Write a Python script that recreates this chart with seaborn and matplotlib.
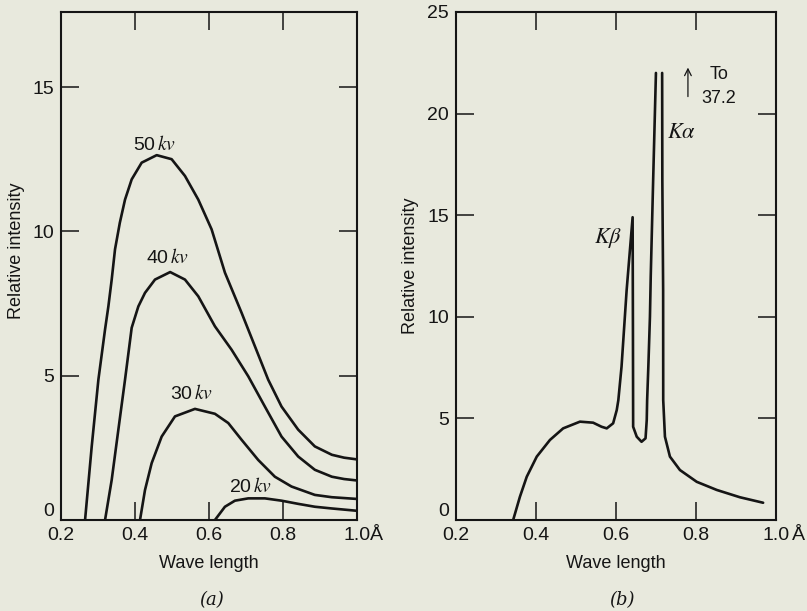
import numpy as np
import pandas as pd
import matplotlib
matplotlib.use("Agg")
import matplotlib.pyplot as plt
import seaborn as sns

# continuous spectra, panel (a): wavelength (A) and relative intensity
wl_50 = [0.265, 0.283, 0.301, 0.319, 0.328, 0.337, 0.346, 0.359, 0.373, 0.391, 0.418,
         0.4586, 0.499, 0.535, 0.571, 0.607, 0.643, 0.688, 0.724, 0.76, 0.796,
         0.841, 0.886, 0.932, 0.965, 1.0]
in_50 = [0.0, 2.55, 4.86, 6.6, 7.4, 8.33, 9.38, 10.3, 11.1, 11.8, 12.38,
         12.64, 12.5, 11.92, 11.1, 10.07, 8.57, 7.18, 6.02, 4.86, 3.93,
         3.13, 2.55, 2.26, 2.16, 2.1]

wl_40 = [0.319, 0.337, 0.355, 0.373, 0.391, 0.409, 0.427, 0.454, 0.495, 0.535,
         0.571, 0.616, 0.661, 0.706, 0.751, 0.796, 0.841, 0.886, 0.932, 0.965, 1.0]
in_40 = [0.0, 1.39, 3.13, 4.86, 6.66, 7.4, 7.87, 8.33, 8.59, 8.33,
         7.75, 6.71, 5.9, 4.98, 3.93, 2.89, 2.2, 1.74, 1.5, 1.42, 1.37]

wl_30 = [0.4135, 0.427, 0.445, 0.472, 0.508, 0.562, 0.616, 0.652, 0.688, 0.733,
         0.778, 0.823, 0.886, 0.932, 1.0]
in_30 = [0.0, 1.04, 1.97, 2.89, 3.59, 3.85, 3.68, 3.36, 2.78, 2.08,
         1.5, 1.16, 0.87, 0.79, 0.73]

wl_20 = [0.616, 0.643, 0.67, 0.706, 0.751, 0.796, 0.841, 0.886, 0.932, 1.0]
in_20 = [0.0, 0.46, 0.67, 0.75, 0.75, 0.67, 0.56, 0.46, 0.4, 0.32]

kv_labels = ["50", "40", "30", "20"]
kv_label_x = [0.454, 0.487, 0.554, 0.713]
kv_label_y = [13.0, 9.1, 4.4, 1.15]

# panel (b): spectrum with characteristic lines, K-alpha cut off at 22
wl_b1 = [0.343, 0.36, 0.377, 0.402, 0.435, 0.468, 0.51, 0.543, 0.564, 0.577, 0.593,
         0.602, 0.606, 0.614, 0.6267, 0.6417, 0.6425, 0.643, 0.652, 0.664, 0.674,
         0.677, 0.678, 0.681, 0.685, 0.687, 0.693, 0.70]
in_b1 = [0.0, 1.15, 2.13, 3.12, 3.94, 4.51, 4.84, 4.79, 4.59, 4.51, 4.76,
         5.41, 5.9, 7.55, 11.3, 14.9, 9.2, 4.59, 4.1, 3.85, 4.02,
         4.92, 5.9, 7.55, 10.0, 12.0, 16.7, 22.0]
wl_b2 = [0.7155, 0.716, 0.718, 0.7182, 0.7225, 0.735, 0.76, 0.802, 0.852, 0.91, 0.968]
in_b2 = [22.0, 16.7, 11.3, 5.9, 4.1, 3.12, 2.46, 1.88, 1.48, 1.12, 0.85]

x_ticks = [0.2, 0.4, 0.6, 0.8, 1.0]
x_ticklabels = ["0.2", "0.4", "0.6", "0.8", "1.0"]

bg = "#e8e9dd"
ink = "#151515"

sns.set_theme(style="ticks")
plt.rcParams["font.family"] = ["Liberation Sans", "DejaVu Sans"]
plt.rcParams["mathtext.fontset"] = "stix"

fig = plt.figure(figsize=(8.07, 6.11), dpi=100, facecolor=bg)
ax1 = fig.add_axes([0.0756, 0.1489, 0.3668, 0.8315])
ax2 = fig.add_axes([0.565, 0.1489, 0.3965, 0.8315])

lw = 1.9
for wl, inten in [(wl_50, in_50), (wl_40, in_40), (wl_30, in_30), (wl_20, in_20)]:
    sns.lineplot(x=wl, y=inten, ax=ax1, color=ink, lw=lw, sort=False)

for lab, lx, ly in zip(kv_labels, kv_label_x, kv_label_y):
    ax1.text(lx, ly, lab + r"$\,kv$", ha="center", va="center", fontsize=14, color=ink)

sns.lineplot(x=wl_b1, y=in_b1, ax=ax2, color=ink, lw=lw, sort=False)
sns.lineplot(x=wl_b2, y=in_b2, ax=ax2, color=ink, lw=lw, sort=False)

ax2.text(0.58, 13.9, r"$K\beta$", ha="center", va="center", fontsize=16, color=ink)
ax2.text(0.765, 19.05, r"$K\alpha$", ha="center", va="center", fontsize=16, color=ink)
ax2.annotate("", xy=(0.78, 22.4), xytext=(0.78, 20.7),
             arrowprops=dict(arrowstyle="->", color=ink, lw=0.9))
ax2.text(0.858, 21.9, "To", ha="center", va="center", fontsize=13, color=ink)
ax2.text(0.857, 20.75, "37.2", ha="center", va="center", fontsize=13, color=ink)

for ax, ylim, yt, a_x in [(ax1, 17.6, [0, 5, 10, 15], 1.066),
                          (ax2, 25, [0, 5, 10, 15, 20, 25], 1.071)]:
    ax.set_facecolor(bg)
    ax.set_xlim(0.2, 1.0)
    ax.set_ylim(0, ylim)
    ax.set_xticks(x_ticks)
    ax.set_xticklabels(x_ticklabels)
    ax.set_yticks(yt)
    ax.set_yticklabels([str(v) for v in yt])
    ax.tick_params(direction="in", length=13, width=1.1, top=True, right=True,
                   labelsize=14, colors=ink, pad=5)
    ax.get_yticklabels()[0].set_va("bottom")
    for s in ax.spines.values():
        s.set_visible(True)
        s.set_linewidth(1.5)
        s.set_color(ink)
    ax.set_xlabel("Wave length", fontsize=13, color=ink, labelpad=8)
    ax.set_ylabel("Relative intensity", fontsize=13, color=ink, labelpad=6)
    ax.text(a_x, -0.031, "Å", transform=ax.transAxes, ha="center", va="center",
            fontsize=14, color=ink)

ax1.yaxis.set_label_coords(-0.12, 0.53)

fig.text(212 / 807, 1 - 600 / 611, "(a)", ha="center", va="center",
         fontsize=13, style="italic", family="DejaVu Serif", color=ink)
fig.text(622 / 807, 1 - 600 / 611, "(b)", ha="center", va="center",
         fontsize=13, style="italic", family="DejaVu Serif", color=ink)

fig.savefig("out.png", dpi=100, facecolor=bg)
